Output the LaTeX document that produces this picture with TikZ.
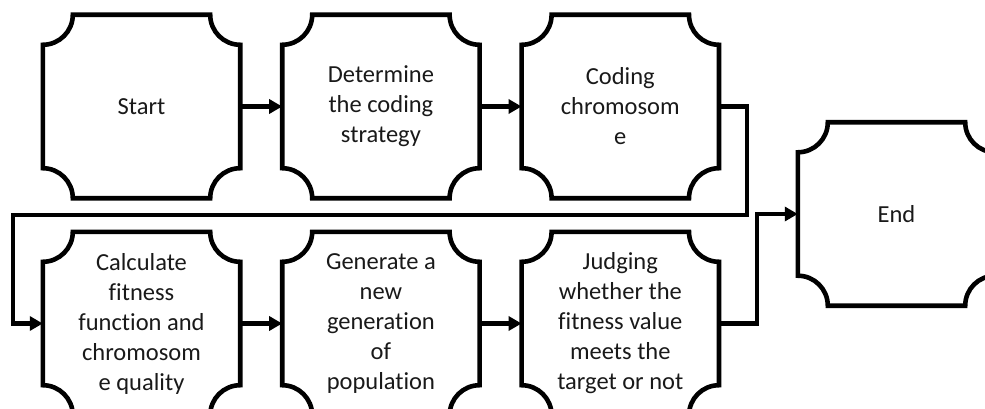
\documentclass[tikz,border=0pt]{standalone}
\usepackage{fontspec}
\setmainfont{Carlito}[Ligatures=NoCommon]
\usetikzlibrary{arrows.meta, positioning, calc}
\tikzset{stage/.style={rectangle,align=center,inner sep=0pt,minimum width=197pt,minimum height=183pt,font=\fontsize{24.5}{30}\selectfont,text=black!90},outline/.style={line width=4.6pt,line join=miter},line/.style={line width=4.4pt,-{Triangle[length=13pt,width=14pt]}}}

\begin{document}
\begin{tikzpicture}[x=1pt,y=1pt,node distance=42pt]
\clip (0,0) rectangle (985,-409);
\node[stage] (start) at (141.5,-106.5) {Start};
\node[stage, right=of start] (strategy) {Determine\\the coding\\strategy};
\node[stage, right=of strategy] (chrom) {Coding\\chromosom\\e};
\node[stage] (fitness) at (141.5,-323.5) {Calculate\\fitness\\function and\\chromosom\\e quality};
\node[stage, right=of fitness] (population) {Generate a\\new\\generation\\of\\population};
\node[stage, right=of population] (judge) {Judging\\whether the\\fitness value\\meets the\\target or not};
\node[stage] (finish) at (896.5,-214) {End};
\foreach \n in {start,strategy,chrom,fitness,population,judge,finish}
  \draw[outline] ($(\n.north west)+(30,0)$) -- ($(\n.north east)+(-30,0)$) arc[start angle=180,end angle=270,radius=30pt] -- ($(\n.south east)+(0,30)$) arc[start angle=90,end angle=180,radius=30pt] -- ($(\n.south west)+(30,0)$) arc[start angle=0,end angle=90,radius=30pt] -- ($(\n.north west)+(0,-30)$) arc[start angle=270,end angle=360,radius=30pt] -- cycle;
\coordinate (turnA) at (747,-215);
\coordinate (turnB) at (13,-215);
\coordinate (turnC) at (757,-214);
\draw[line] (start) -- (strategy);
\draw[line] (strategy) -- (chrom);
\draw[line] (chrom.east) -| (turnA) -- (turnB) |- (fitness.west);
\draw[line] (fitness) -- (population);
\draw[line] (population) -- (judge);
\draw[line] (judge.east) -| (turnC) -- (finish.west);
\end{tikzpicture}
\end{document}
